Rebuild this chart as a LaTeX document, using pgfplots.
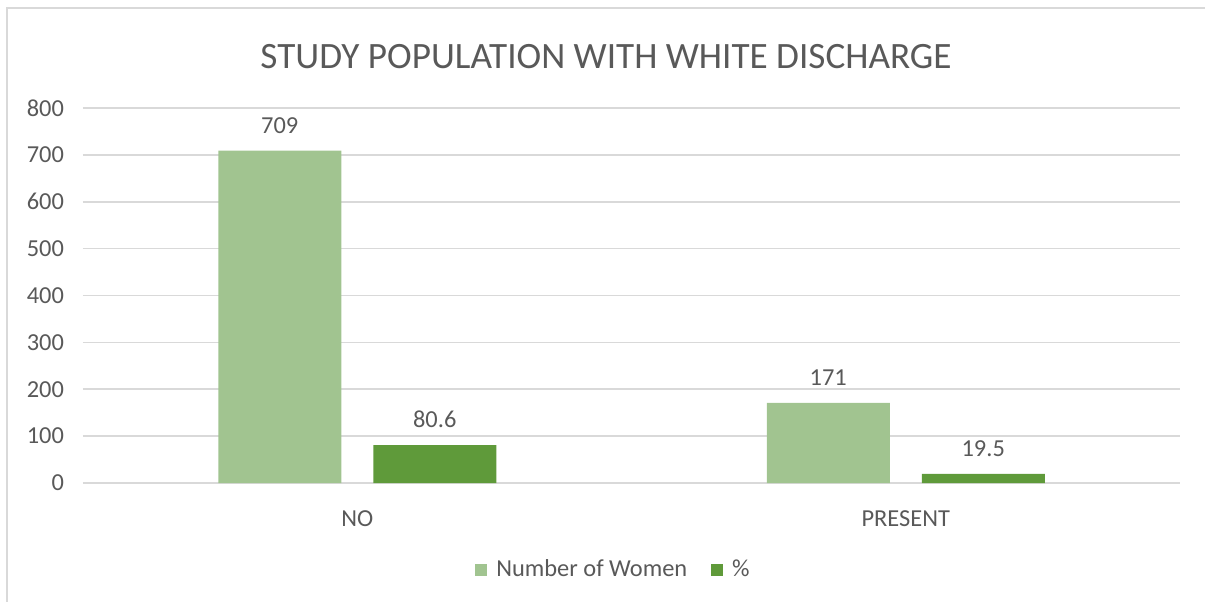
\documentclass[border=0pt]{standalone}
\usepackage{pgfplots}
\pgfplotsset{compat=1.18}
\usepackage{fontspec}
\setmainfont{Carlito}
\definecolor{lightgreen}{HTML}{A1C490}
\definecolor{darkgreen}{HTML}{5F9A3A}
\definecolor{txtgray}{HTML}{595959}
\definecolor{gridgray}{HTML}{D9D9D9}
\begin{document}
\begin{tikzpicture}
\path[use as bounding box] (-41.5pt,-59pt) rectangle (561pt,241.5pt);
% chart frame, cut off at the right and bottom as in the source
\draw[gridgray, line width=0.9pt] (-38pt,-60pt) -- (-38pt,237.5pt) -- (562pt,237.5pt);
\node[txtgray, font=\fontsize{18.6}{22}\selectfont] at (261.5pt,213pt) {STUDY POPULATION WITH WHITE DISCHARGE};
\begin{axis}[
  at={(0,0)}, anchor=south west,
  scale only axis, width=548.5pt, height=187.5pt,
  ybar=16pt, bar width=61.5pt,
  xmin=-0.5, xmax=1.5, ymin=0, ymax=800,
  xtick={0,1}, xticklabels={NO,PRESENT},
  ytick={0,100,...,800},
  ymajorgrids, grid style={gridgray, line width=0.8pt},
  axis x line*=bottom, axis y line*=left,
  x axis line style={gridgray, line width=0.8pt, -},
  y axis line style={draw=none},
  major tick length=0,
  /pgf/number format/assume math mode=true,
  tick label style={txtgray, font=\fontsize{12.2}{14}\selectfont},
  yticklabel style={xshift=-6pt},
  xticklabel style={yshift=-10.5pt},
  nodes near coords,
  every node near coord/.append style={txtgray, font=\fontsize{12.2}{14}\selectfont, yshift=5pt},
  legend columns=2,
  legend style={draw=none, at={(0.4845,-0.232)}, anchor=center,
    font=\fontsize{12.2}{14}\selectfont, text=txtgray,
    /tikz/every odd column/.append style={column sep=2.5pt},
    /tikz/every even column/.append style={column sep=10pt}},
  legend image code/.code={\fill[#1] (0pt,-3pt) rectangle (6pt,3pt);},
]
\addplot[fill=lightgreen, draw=none] coordinates {(0,709) (1,171)};
\addplot[fill=darkgreen, draw=none] coordinates {(0,80.6) (1,19.5)};
\legend{Number of Women, \%}
\end{axis}
\end{tikzpicture}
\end{document}
